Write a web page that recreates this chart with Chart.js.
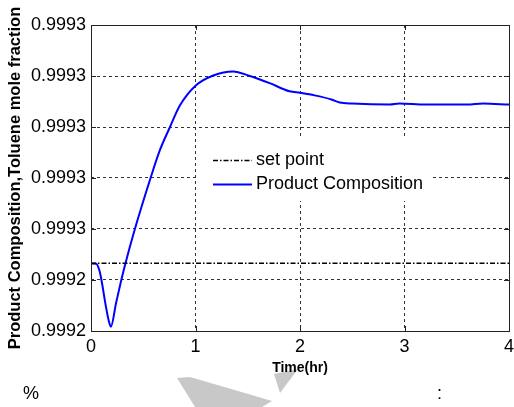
<!DOCTYPE html>
<html>
<head>
<meta charset="utf-8">
<script src="https://cdn.jsdelivr.net/npm/chart.js@4.4.1/dist/chart.umd.min.js"></script>
<style>
  body { margin: 0; background: #fff; }
  #wrap { position: relative; width: 514px; height: 407px; overflow: hidden; }
  #chart { position: absolute; left: 0; top: 0; }
  .note { position: absolute; font-family: 'Liberation Sans', Arial, sans-serif; font-size: 18px; color: #000; }
  #mark { position: absolute; left: 0; top: 0; }
</style>
</head>
<body>
<div id="wrap">
  <svg id="mark" width="514" height="407">
    <polygon points="177,378 190,377 272,401 262,407 195,407" fill="#c8c8c8"/>
    <polygon points="274,374 298,369 280,393" fill="#c8c8c8"/>
  </svg>
  <canvas id="chart" width="514" height="407"></canvas>
  <div class="note" style="left:23px; top:383px;">%</div>
  <div class="note" style="left:437px; top:383px;">:</div>
</div>
<script>
// time axis (hr) and product composition
var timeHr = [0, 0.05, 0.08, 0.10, 0.14, 0.17, 0.19, 0.24, 0.29, 0.33, 0.42, 0.57, 0.66, 0.756, 0.85,
              1.0, 1.17, 1.36, 1.52, 1.71, 1.9, 2.0, 2.14, 2.3, 2.38, 2.5, 2.86, 2.95, 3.2, 3.6, 3.75, 4.0];
var composition = [0.9992265, 0.9992264, 0.9992238, 0.9992200, 0.9992102, 0.9992040, 0.9992017, 0.9992110,
                   0.9992200, 0.9992266, 0.9992400, 0.9992600, 0.9992710, 0.9992800, 0.9992884,
                   0.9992962, 0.9993002, 0.9993018, 0.9993000, 0.9992972, 0.9992940, 0.9992934,
                   0.9992924, 0.9992908, 0.9992896, 0.9992892, 0.9992888, 0.9992892, 0.9992888, 0.9992888,
                   0.9992892, 0.9992888];
var setPoint = 0.9992266;

var xTickValues = [0, 1, 2, 3, 4];
var xTickLabels = ['0', '1', '2', '3', '4'];
var yTickValues = [0.99920, 0.99922, 0.99924, 0.99926, 0.99928, 0.99930, 0.99932];
var yTickLabels = ['0.9992', '0.9992', '0.9993', '0.9993', '0.9993', '0.9993', '0.9993'];

var FONT = "'Liberation Sans', Arial, sans-serif";

// axes box, inside tick marks and the legend inside the plot
var framePlugin = {
    id: 'frame',
    afterDatasetsDraw: function(chart) {
        var ctx = chart.ctx;
        var x0 = 197, y0 = 138, w = 236, h = 63;
        ctx.save();
        ctx.fillStyle = '#fff';
        ctx.fillRect(x0, y0, w, h);
        ctx.font = '18px ' + FONT;
        ctx.textBaseline = 'middle';
        ctx.fillStyle = '#000';
        chart.data.datasets.forEach(function(ds, i) {
            var y = 160 + i * 24;
            ctx.beginPath();
            ctx.strokeStyle = ds.borderColor;
            ctx.lineWidth = ds.borderWidth;
            ctx.setLineDash(ds.borderDash || []);
            ctx.moveTo(213, y + 0.5);
            ctx.lineTo(252, y + 0.5);
            ctx.stroke();
            ctx.fillText(ds.label, 256, y);
        });
        ctx.restore();
    },
    afterDraw: function(chart) {
        var ctx = chart.ctx, a = chart.chartArea;
        var xs = chart.scales.x, ys = chart.scales.y;
        ctx.save();
        ctx.strokeStyle = '#222';
        ctx.lineWidth = 1;
        ctx.setLineDash([]);
        ctx.strokeRect(Math.round(a.left) + 0.5, Math.round(a.top) + 0.5,
                       Math.round(a.right - a.left), Math.round(a.bottom - a.top));
        ctx.beginPath();
        xTickValues.forEach(function(v) {
            var px = Math.round(xs.getPixelForValue(v)) + 0.5;
            ctx.moveTo(px, a.bottom); ctx.lineTo(px, a.bottom - 5);
            ctx.moveTo(px, a.top); ctx.lineTo(px, a.top + 5);
        });
        yTickValues.forEach(function(v) {
            var py = Math.round(ys.getPixelForValue(v)) + 0.5;
            ctx.moveTo(a.left, py); ctx.lineTo(a.left + 5, py);
            ctx.moveTo(a.right, py); ctx.lineTo(a.right - 5, py);
        });
        ctx.stroke();
        ctx.restore();
    }
};

var ctx = document.getElementById('chart').getContext('2d');
var compositionChart = new Chart(ctx, {
    type: 'line',
    data: {
        datasets: [{
            label: 'set point',
            data: [{ x: timeHr[0], y: setPoint }, { x: timeHr[timeHr.length - 1], y: setPoint }],
            borderColor: '#000',
            borderWidth: 1.5,
            borderDash: [5, 2, 1.5, 2],
            pointRadius: 0,
            fill: false
        }, {
            label: 'Product Composition',
            data: timeHr.map(function(t, i) { return { x: t, y: composition[i] }; }),
            borderColor: '#0000ff',
            borderWidth: 2,
            pointRadius: 0,
            cubicInterpolationMode: 'monotone',
            fill: false
        }]
    },
    options: {
        responsive: false,
        animation: false,
        layout: { padding: { left: 0, top: 25, right: 5, bottom: 0 } },
        plugins: { legend: { display: false }, tooltip: { enabled: false } },
        scales: {
            x: {
                type: 'linear',
                min: 0,
                max: 4,
                afterBuildTicks: function(scale) {
                    scale.ticks = xTickValues.map(function(v) { return { value: v }; });
                },
                afterFit: function(scale) {
                    scale.height = 76;
                    scale.paddingLeft = 0;
                    scale.paddingRight = 0;
                },
                ticks: {
                    autoSkip: false,
                    maxRotation: 0,
                    padding: 5,
                    color: '#000',
                    font: { family: FONT, size: 18 },
                    callback: function(value, index) { return xTickLabels[index]; }
                },
                grid: { color: '#333', lineWidth: 1, drawTicks: false },
                border: { display: false, dash: [3, 3] },
                title: {
                    display: true,
                    text: 'Time(hr)',
                    color: '#000',
                    font: { family: FONT, size: 14, weight: 'bold' },
                    padding: { top: 0, bottom: 30.6 }
                }
            },
            y: {
                type: 'linear',
                min: 0.99920,
                max: 0.99932,
                afterBuildTicks: function(scale) {
                    scale.ticks = yTickValues.map(function(v) { return { value: v }; });
                },
                afterFit: function(scale) {
                    scale.width = 91;
                    scale.paddingTop = 0;
                    scale.paddingBottom = 0;
                },
                ticks: {
                    autoSkip: false,
                    padding: 5,
                    color: '#000',
                    font: { family: FONT, size: 18 },
                    callback: function(value, index) { return yTickLabels[index]; }
                },
                grid: { color: '#333', lineWidth: 1, drawTicks: false },
                border: { display: false, dash: [3, 3] },
                title: {
                    display: true,
                    text: 'Product Composition,Toluene mole fraction',
                    color: '#000',
                    font: { family: FONT, size: 16.5, weight: 'bold' },
                    padding: { top: 5.1, bottom: 0 }
                }
            }
        }
    },
    plugins: [framePlugin]
});
</script>
</body>
</html>
